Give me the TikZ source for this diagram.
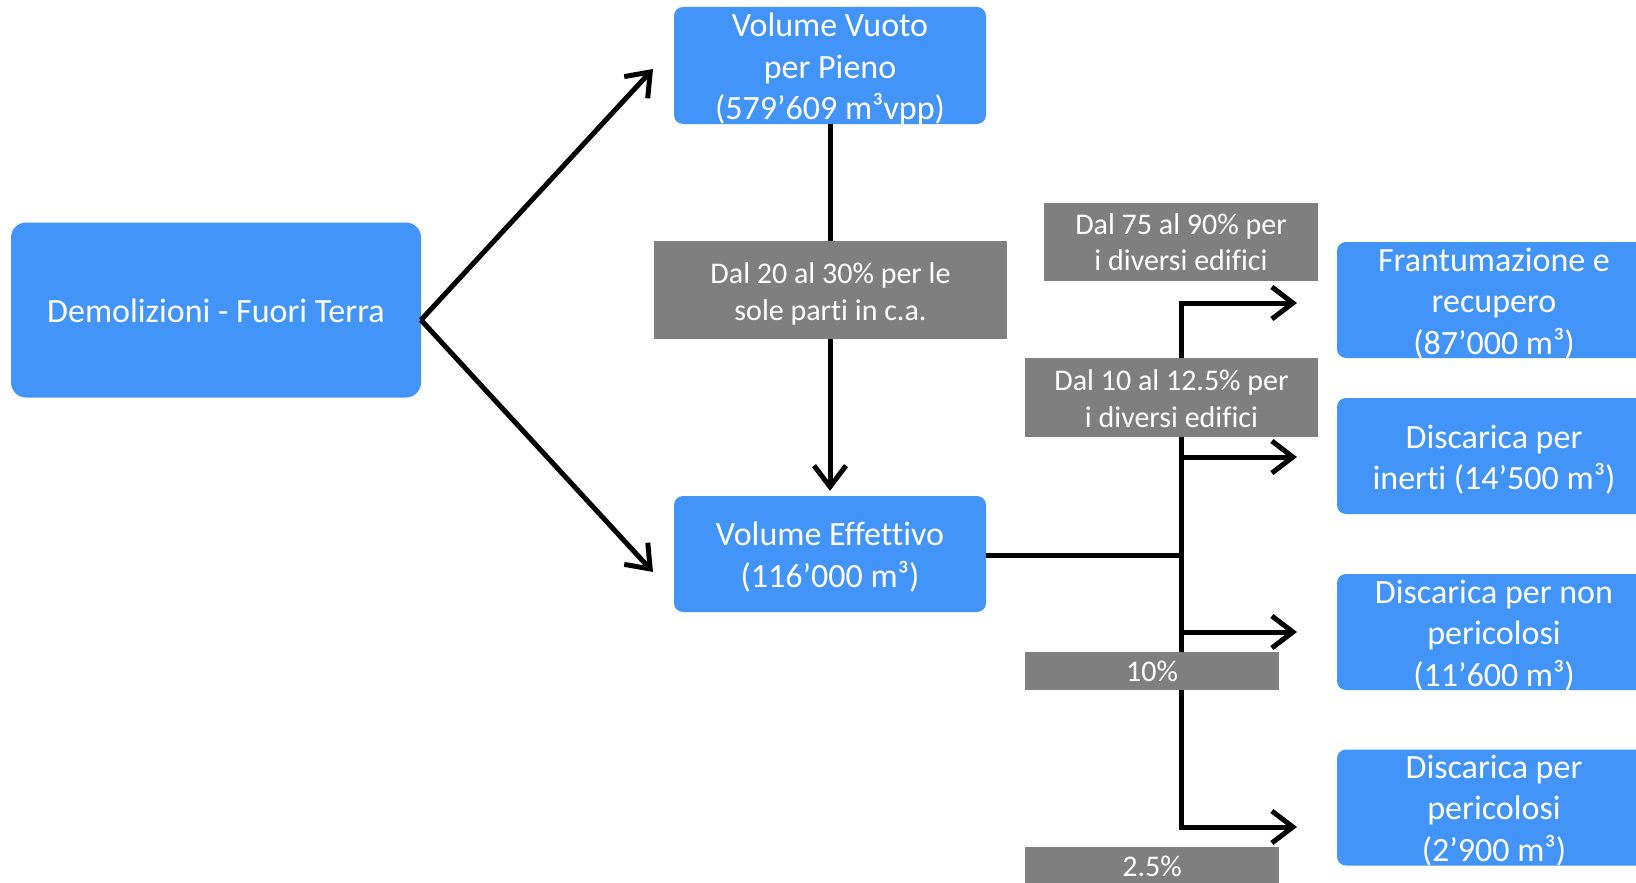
\documentclass[tikz,border=0pt]{standalone}
\usepackage{fontspec}
\setmainfont{Carlito}[Ligatures={NoCommon}]
\usetikzlibrary{arrows.meta}
\definecolor{boxblue}{RGB}{66,148,248}
\definecolor{boxgray}{RGB}{127,127,127}
\tikzset{
  bluebox/.style={fill=boxblue, rounded corners=9pt, inner sep=0pt},
  graybox/.style={fill=boxgray, inner sep=0pt},
  bluetext/.style={text=white, align=center, inner sep=0pt,
    font=\fontsize{34}{41.5}\selectfont},
  graytext/.style={text=white, align=center, inner sep=0pt,
    font=\fontsize{30}{36.5}\selectfont},
  link/.style={line width=5pt, draw=black},
  arr/.style={link, -{Straight Barb[length=21pt,width=32pt]}}
}
\begin{document}
\begin{tikzpicture}[x=1pt,y=-1pt]
\useasboundingbox (0,0) rectangle (1636,883);
\clip (0,0) rectangle (1636,883);

% blue process boxes, each with its caption as a centred label
\node[bluebox, rounded corners=15pt, minimum width=410pt, minimum height=175pt,
  label={[name=demot, bluetext, yshift=-1pt]center:Demolizioni - Fuori Terra}] (demo) at (216,310) {};
\node[bluebox, minimum width=312pt, minimum height=117pt,
  label={[name=vvt, bluetext, yshift=-3.5pt]center:{Volume Vuoto\\per Pieno\\(579’609 m³vpp)}}] (vv) at (830,65.5) {};
\node[bluebox, minimum width=312pt, minimum height=116pt,
  label={[name=vet, bluetext, yshift=-3pt]center:{Volume Effettivo\\(116’000 m³)}}] (ve) at (830,554) {};
\node[bluebox, minimum width=314pt, minimum height=116pt,
  label={[name=frt, bluetext, yshift=-3.5pt]center:{Frantumazione e\\recupero\\(87’000 m³)}}] (fr) at (1494,300) {};
\node[bluebox, minimum width=314pt, minimum height=116pt,
  label={[name=int, bluetext, yshift=-3.5pt]center:{Discarica per\\inerti (14’500 m³)}}] (in) at (1494,456) {};
\node[bluebox, minimum width=314pt, minimum height=116pt,
  label={[name=npt, bluetext, yshift=-3.5pt]center:{Discarica per non\\pericolosi\\(11’600 m³)}}] (np) at (1494,632) {};
\node[bluebox, minimum width=314pt, minimum height=116pt,
  label={[name=pet, bluetext, yshift=-3pt]center:{Discarica per\\pericolosi\\(2’900 m³)}}] (pe) at (1494,807.5) {};

% connector end points
\coordinate (o) at (421,320);
\coordinate (tu) at (653,69);
\coordinate (td) at (653,572);
\coordinate (bt) at (1181,303);
\coordinate (bb) at (1181,827);
\coordinate (bm) at (1181,555);
\coordinate (b2) at (1181,457);
\coordinate (b3) at (1181,632);
\coordinate (e1) at (1297,303);
\coordinate (e2) at (1297,457);
\coordinate (e3) at (1297,632);
\coordinate (e4) at (1297,827);

% connectors
\draw[arr] (o) -- (tu);
\draw[arr] (o) -- (td);
\draw[arr, shorten >=5pt] (vv.south) -- (ve.north);
\draw[link] (ve.east |- bm) -- (bm);
\draw[link, line cap=rect] (bt) -- (bb);
\draw[arr] (bt) -- (e1);
\draw[arr] (b2) -- (e2);
\draw[arr] (b3) -- (e3);
\draw[arr] (bb) -- (e4);

% grey percentage labels
\node[graybox, minimum width=353pt, minimum height=98pt,
  label={[name=p1t, graytext, yshift=-4pt]center:{Dal 20 al 30\% per le\\sole parti in c.a.}}] (p1) at (830.5,290) {};
\node[graybox, minimum width=274pt, minimum height=78pt,
  label={[name=p2t, graytext]center:{Dal 75 al 90\% per\\i diversi edifici}}] (p2) at (1181,242) {};
\node[graybox, minimum width=293pt, minimum height=79pt,
  label={[name=p3t, graytext, yshift=-1pt]center:{Dal 10 al 12.5\% per\\i diversi edifici}}] (p3) at (1171.5,397.5) {};
\node[graybox, minimum width=254pt, minimum height=38pt,
  label={[name=p4t, graytext]center:10\%}] (p4) at (1152,671) {};
\node[graybox, minimum width=254pt, minimum height=38pt,
  label={[name=p5t, graytext]center:2.5\%}] (p5) at (1152,866) {};
\end{tikzpicture}
\end{document}
